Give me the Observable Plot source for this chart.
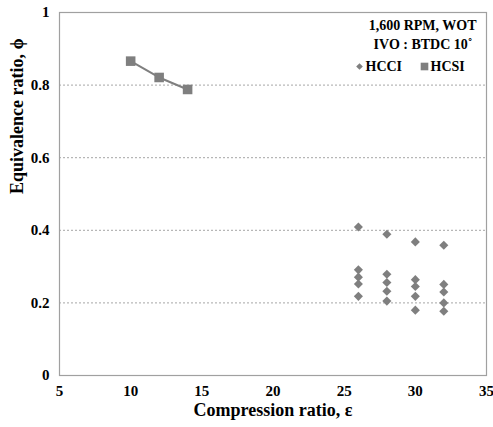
<!DOCTYPE html>
<html>
<head>
<meta charset="utf-8">
<script src="https://cdn.jsdelivr.net/npm/d3@7"></script>
<script src="https://cdn.jsdelivr.net/npm/@observablehq/plot@0.6"></script>
<style>
  html, body { margin: 0; padding: 0; background: #fff; }
  #chart svg { display: block; }
  #chart svg text { font-family: "Liberation Serif", "Times New Roman", serif; }
</style>
</head>
<body>
<div id="chart"></div>
<script>
// HCSI series
const hcsiX = [10, 12, 14];
const hcsiY = [0.866, 0.821, 0.788];

// HCCI series (compression ratio, equivalence ratio)
const hcciX = [26, 26, 26, 26, 26, 28, 28, 28, 28, 28, 30, 30, 30, 30, 30, 32, 32, 32, 32, 32];
const hcciY = [0.409, 0.291, 0.271, 0.252, 0.218,
               0.389, 0.279, 0.256, 0.232, 0.205,
               0.368, 0.264, 0.245, 0.218, 0.180,
               0.359, 0.251, 0.230, 0.200, 0.177];

const xTicks = [5, 10, 15, 20, 25, 30, 35];
const yTicks = [0, 0.2, 0.4, 0.6, 0.8, 1];
const yTickLabels = ["0", "0.2", "0.4", "0.6", "0.8", "1"];
const gridValues = [0.2, 0.4, 0.6, 0.8];

const noteLines = ["1,600 RPM, WOT", "IVO : BTDC 10˚"];
const seriesNames = ["HCCI", "HCSI"];
const xLabel = "Compression ratio, ε";
const yLabel = "Equivalence ratio, ϕ";

const hcsi = hcsiX.map((x, i) => ({x, y: hcsiY[i]}));
const hcci = hcciX.map((x, i) => ({x, y: hcciY[i]}));

const gray = "#7f7f7f";
const font = "Liberation Serif, Times New Roman, serif";
const txt = {fontFamily: font, fontWeight: "bold", fill: "#000"};

const chart = Plot.plot({
  width: 493,
  height: 427,
  marginLeft: 59,
  marginRight: 7,
  marginTop: 12,
  marginBottom: 52,
  style: {fontFamily: font, fontWeight: "bold", fontSize: "15px", color: "#000", background: "#fff"},
  x: {domain: [5, 35]},
  y: {domain: [0, 1]},
  marks: [
    Plot.gridY(gridValues, {stroke: "#a6a6a6", strokeOpacity: 1, strokeDasharray: "2,2", strokeWidth: 1}),
    Plot.frame({stroke: "#a0a0a0", strokeWidth: 1.2}),
    Plot.axisX(xTicks, {tickSize: 0, tickPadding: 10, label: null, fontSize: 15, ...txt}),
    Plot.axisY(yTicks, {tickSize: 0, tickPadding: 10, label: null, tickFormat: d => yTickLabels[yTicks.indexOf(d)], fontSize: 15, ...txt}),
    Plot.text([xLabel], {text: d => d, frameAnchor: "bottom", dy: 35, lineAnchor: "middle", fontSize: 18, ...txt}),
    Plot.text([yLabel], {text: d => d, frameAnchor: "left", dx: -42, rotate: -90, lineAnchor: "middle", fontSize: 18, ...txt}),
    Plot.line(hcsi, {x: "x", y: "y", stroke: gray, strokeWidth: 2}),
    Plot.dot(hcsi, {x: "x", y: "y", symbol: "square", r: 5.4, fill: gray, stroke: "none"}),
    Plot.dot(hcci, {x: "x", y: "y", symbol: "diamond2", r: 4.1, fill: gray, stroke: "none"}),
    // annotation / legend
    Plot.text([noteLines[0]], {text: d => d, frameAnchor: "top-right", textAnchor: "end", lineAnchor: "middle", dx: -10, dy: 13, fontSize: 14, ...txt}),
    Plot.text([noteLines[1]], {text: d => d, frameAnchor: "top-right", textAnchor: "end", lineAnchor: "middle", dx: -14, dy: 32, fontSize: 14, ...txt}),
    Plot.dot([0], {frameAnchor: "top-right", dx: -127, dy: 54, symbol: "diamond2", r: 3, fill: gray}),
    Plot.text([seriesNames[0]], {text: d => d, frameAnchor: "top-right", textAnchor: "start", lineAnchor: "middle", dx: -121, dy: 54, fontSize: 14, ...txt}),
    Plot.dot([0], {frameAnchor: "top-right", dx: -62, dy: 54, symbol: "square", r: 4.3, fill: gray}),
    Plot.text([seriesNames[1]], {text: d => d, frameAnchor: "top-right", textAnchor: "start", lineAnchor: "middle", dx: -56, dy: 54, fontSize: 14, ...txt})
  ]
});
document.getElementById("chart").appendChild(chart);
</script>
</body>
</html>
